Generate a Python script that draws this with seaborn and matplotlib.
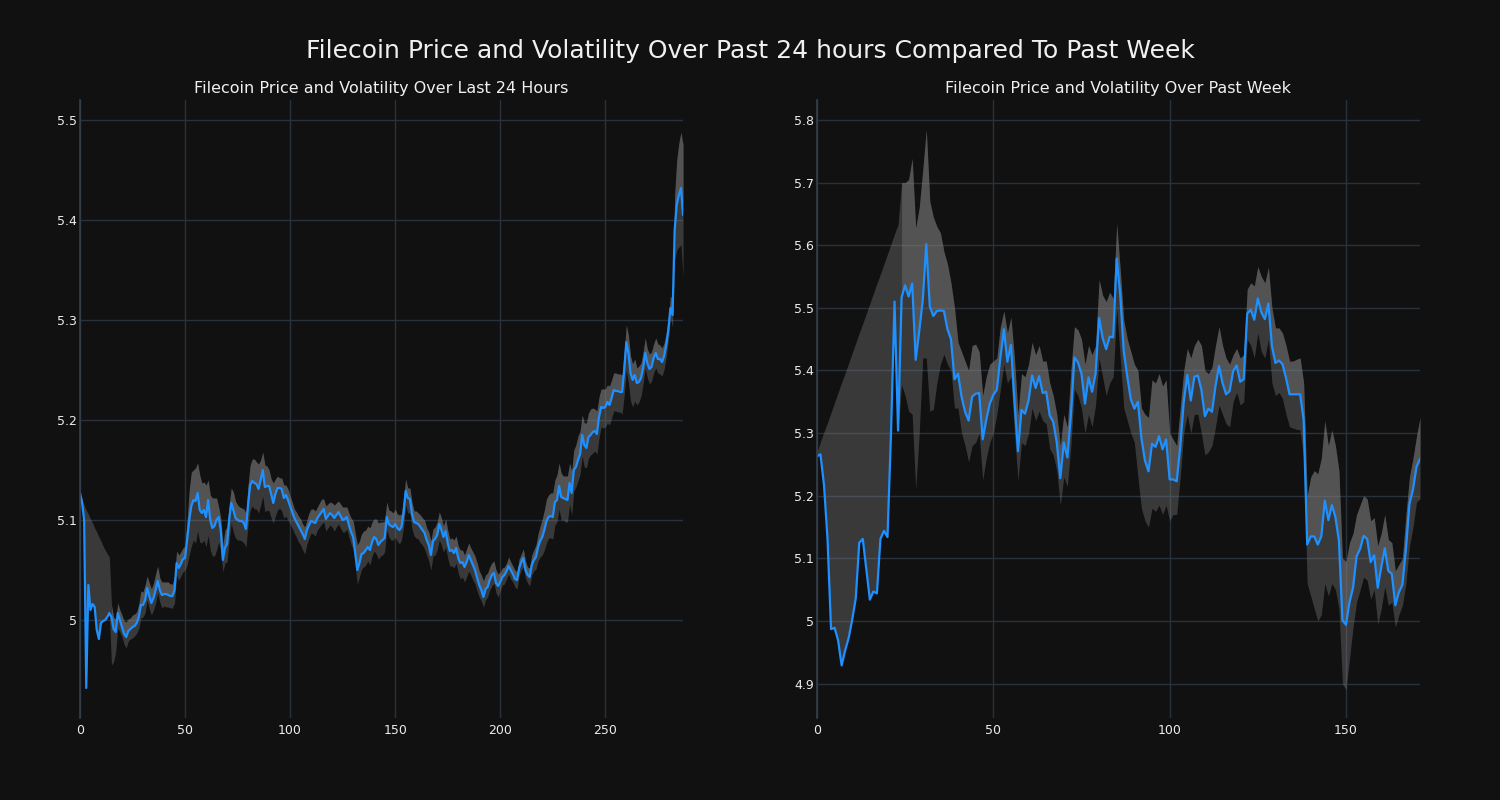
import matplotlib
matplotlib.use("Agg")
import matplotlib.pyplot as plt
from matplotlib.ticker import FuncFormatter
import numpy as np
import seaborn as sns

# last 24 hours (5 minute steps)
day_price = [
    5.127, 5.118, 5.100, 4.932, 5.035, 5.010, 5.016, 5.013, 4.990, 4.981,
    4.997, 4.999, 5.000, 5.003, 5.007, 5.003, 4.991, 4.988, 5.007, 5.000,
    4.993, 4.986, 4.983, 4.989, 4.991, 4.993, 4.994, 4.997, 5.003, 5.015,
    5.015, 5.020, 5.032, 5.024, 5.017, 5.022, 5.030, 5.039, 5.030, 5.025,
    5.026, 5.026, 5.025, 5.024, 5.024, 5.030, 5.057, 5.052, 5.056, 5.061,
    5.062, 5.080, 5.100, 5.114, 5.120, 5.119, 5.127, 5.110, 5.107, 5.110,
    5.103, 5.120, 5.100, 5.092, 5.094, 5.100, 5.103, 5.090, 5.060, 5.072,
    5.076, 5.100, 5.117, 5.110, 5.102, 5.100, 5.099, 5.099, 5.097, 5.091,
    5.115, 5.135, 5.139, 5.137, 5.136, 5.131, 5.140, 5.150, 5.133, 5.134,
    5.134, 5.126, 5.117, 5.126, 5.132, 5.132, 5.131, 5.122, 5.125, 5.120,
    5.114, 5.108, 5.102, 5.098, 5.094, 5.090, 5.086, 5.081, 5.090, 5.095,
    5.099, 5.098, 5.097, 5.102, 5.105, 5.108, 5.111, 5.101, 5.104, 5.107,
    5.105, 5.102, 5.105, 5.108, 5.104, 5.100, 5.101, 5.103, 5.095, 5.088,
    5.083, 5.067, 5.050, 5.057, 5.066, 5.067, 5.070, 5.073, 5.070, 5.078,
    5.083, 5.081, 5.075, 5.078, 5.080, 5.082, 5.103, 5.096, 5.094, 5.093,
    5.096, 5.092, 5.090, 5.093, 5.107, 5.129, 5.122, 5.121, 5.106, 5.098,
    5.097, 5.096, 5.093, 5.090, 5.087, 5.080, 5.075, 5.065, 5.079, 5.081,
    5.085, 5.096, 5.090, 5.083, 5.089, 5.077, 5.069, 5.070, 5.067, 5.072,
    5.062, 5.057, 5.058, 5.053, 5.058, 5.065, 5.060, 5.055, 5.050, 5.042,
    5.035, 5.030, 5.023, 5.031, 5.033, 5.040, 5.045, 5.047, 5.037, 5.034,
    5.038, 5.043, 5.045, 5.049, 5.054, 5.050, 5.046, 5.041, 5.040, 5.052,
    5.058, 5.062, 5.050, 5.045, 5.043, 5.055, 5.060, 5.063, 5.073, 5.079,
    5.083, 5.090, 5.099, 5.103, 5.104, 5.103, 5.118, 5.120, 5.134, 5.123,
    5.122, 5.121, 5.120, 5.137, 5.127, 5.150, 5.153, 5.160, 5.166, 5.185,
    5.175, 5.172, 5.183, 5.185, 5.188, 5.189, 5.186, 5.203, 5.213, 5.212,
    5.213, 5.218, 5.215, 5.222, 5.230, 5.229, 5.229, 5.228, 5.228, 5.250,
    5.278, 5.267, 5.247, 5.240, 5.245, 5.237, 5.238, 5.242, 5.252, 5.267,
    5.257, 5.251, 5.253, 5.262, 5.267, 5.261, 5.261, 5.258, 5.264, 5.275,
    5.290, 5.312, 5.305, 5.390, 5.415, 5.425, 5.432, 5.405,
]
day_up = [
    0.000, 0.002, 0.015, 0.178, 0.071, 0.091, 0.081, 0.079, 0.098, 0.102,
    0.082, 0.075, 0.070, 0.063, 0.056, 0.012, 0.012, 0.013, 0.010, 0.010,
    0.012, 0.013, 0.015, 0.012, 0.011, 0.012, 0.012, 0.011, 0.013, 0.014,
    0.013, 0.015, 0.012, 0.013, 0.014, 0.015, 0.016, 0.015, 0.012, 0.013,
    0.012, 0.012, 0.013, 0.012, 0.012, 0.014, 0.012, 0.013, 0.012, 0.011,
    0.012, 0.020, 0.030, 0.034, 0.030, 0.033, 0.030, 0.035, 0.030, 0.028,
    0.032, 0.020, 0.025, 0.030, 0.028, 0.022, 0.010, 0.012, 0.015, 0.018,
    0.017, 0.015, 0.015, 0.018, 0.017, 0.015, 0.014, 0.013, 0.014, 0.016,
    0.020, 0.020, 0.022, 0.024, 0.022, 0.025, 0.020, 0.018, 0.022, 0.020,
    0.016, 0.015, 0.020, 0.015, 0.012, 0.010, 0.011, 0.013, 0.010, 0.011,
    0.010, 0.010, 0.009, 0.010, 0.010, 0.011, 0.010, 0.012, 0.010, 0.012,
    0.012, 0.013, 0.012, 0.011, 0.012, 0.013, 0.010, 0.013, 0.012, 0.011,
    0.012, 0.013, 0.012, 0.011, 0.012, 0.013, 0.012, 0.010, 0.012, 0.014,
    0.016, 0.020, 0.025, 0.022, 0.020, 0.022, 0.020, 0.021, 0.022, 0.020,
    0.018, 0.020, 0.022, 0.020, 0.018, 0.017, 0.015, 0.014, 0.015, 0.014,
    0.015, 0.014, 0.015, 0.013, 0.015, 0.012, 0.010, 0.011, 0.012, 0.011,
    0.012, 0.011, 0.012, 0.012, 0.013, 0.012, 0.013, 0.014, 0.012, 0.012,
    0.013, 0.012, 0.012, 0.011, 0.012, 0.013, 0.012, 0.012, 0.013, 0.012,
    0.012, 0.013, 0.012, 0.012, 0.013, 0.012, 0.012, 0.013, 0.014, 0.015,
    0.014, 0.015, 0.016, 0.014, 0.014, 0.013, 0.012, 0.012, 0.013, 0.012,
    0.010, 0.009, 0.008, 0.008, 0.009, 0.008, 0.008, 0.009, 0.008, 0.009,
    0.008, 0.009, 0.009, 0.008, 0.009, 0.010, 0.010, 0.012, 0.013, 0.015,
    0.018, 0.020, 0.022, 0.022, 0.023, 0.024, 0.022, 0.025, 0.023, 0.024,
    0.022, 0.023, 0.024, 0.020, 0.022, 0.020, 0.022, 0.024, 0.023, 0.020,
    0.022, 0.025, 0.024, 0.026, 0.024, 0.022, 0.023, 0.020, 0.018, 0.019,
    0.018, 0.017, 0.019, 0.018, 0.017, 0.018, 0.017, 0.018, 0.017, 0.018,
    0.017, 0.018, 0.017, 0.016, 0.016, 0.015, 0.016, 0.015, 0.016, 0.015,
    0.014, 0.015, 0.015, 0.014, 0.015, 0.015, 0.014, 0.014, 0.013, 0.012,
    0.012, 0.012, 0.015, 0.035, 0.045, 0.052, 0.056, 0.070,
]
day_down = [
    0.000, 0.000, 0.000, 0.000, 0.000, 0.000, 0.000, 0.000, 0.000, 0.000,
    0.000, 0.000, 0.000, 0.000, 0.000, 0.048, 0.033, 0.020, 0.015, 0.012,
    0.010, 0.010, 0.011, 0.010, 0.010, 0.011, 0.010, 0.010, 0.012, 0.013,
    0.012, 0.013, 0.012, 0.013, 0.012, 0.012, 0.013, 0.012, 0.012, 0.013,
    0.012, 0.013, 0.012, 0.012, 0.012, 0.013, 0.012, 0.012, 0.012, 0.013,
    0.012, 0.025, 0.035, 0.040, 0.040, 0.042, 0.038, 0.032, 0.030, 0.030,
    0.030, 0.035, 0.030, 0.028, 0.030, 0.030, 0.025, 0.020, 0.012, 0.015,
    0.018, 0.020, 0.020, 0.022, 0.020, 0.020, 0.019, 0.020, 0.020, 0.018,
    0.020, 0.025, 0.025, 0.026, 0.025, 0.024, 0.025, 0.026, 0.025, 0.024,
    0.025, 0.024, 0.020, 0.022, 0.022, 0.020, 0.022, 0.020, 0.021, 0.020,
    0.018, 0.016, 0.015, 0.015, 0.016, 0.015, 0.016, 0.015, 0.014, 0.013,
    0.012, 0.012, 0.013, 0.012, 0.012, 0.012, 0.013, 0.012, 0.012, 0.012,
    0.012, 0.013, 0.012, 0.012, 0.012, 0.012, 0.013, 0.012, 0.012, 0.012,
    0.012, 0.013, 0.014, 0.014, 0.015, 0.014, 0.015, 0.014, 0.015, 0.014,
    0.014, 0.015, 0.014, 0.014, 0.015, 0.014, 0.013, 0.013, 0.014, 0.013,
    0.013, 0.013, 0.014, 0.013, 0.014, 0.014, 0.015, 0.014, 0.015, 0.014,
    0.015, 0.015, 0.016, 0.015, 0.016, 0.015, 0.016, 0.015, 0.015, 0.016,
    0.015, 0.016, 0.015, 0.015, 0.016, 0.015, 0.015, 0.016, 0.015, 0.015,
    0.015, 0.016, 0.015, 0.015, 0.015, 0.016, 0.015, 0.015, 0.014, 0.013,
    0.012, 0.011, 0.010, 0.011, 0.010, 0.010, 0.011, 0.010, 0.010, 0.011,
    0.009, 0.008, 0.009, 0.008, 0.008, 0.009, 0.008, 0.008, 0.009, 0.008,
    0.008, 0.009, 0.008, 0.008, 0.009, 0.010, 0.011, 0.012, 0.014, 0.016,
    0.018, 0.020, 0.022, 0.021, 0.022, 0.022, 0.023, 0.022, 0.023, 0.023,
    0.022, 0.023, 0.022, 0.021, 0.022, 0.021, 0.020, 0.021, 0.020, 0.021,
    0.022, 0.020, 0.021, 0.020, 0.021, 0.020, 0.020, 0.021, 0.020, 0.020,
    0.020, 0.021, 0.020, 0.020, 0.021, 0.020, 0.021, 0.020, 0.022, 0.025,
    0.028, 0.030, 0.028, 0.027, 0.026, 0.022, 0.020, 0.018, 0.016, 0.015,
    0.015, 0.015, 0.014, 0.015, 0.015, 0.014, 0.015, 0.014, 0.013, 0.012,
    0.010, 0.010, 0.012, 0.030, 0.045, 0.052, 0.057, 0.062,
]

# past week (hourly)
week_price = [
    5.263, 5.266, 5.217, 5.131, 4.987, 4.989, 4.969, 4.929, 4.953, 4.973,
    5.002, 5.036, 5.125, 5.131, 5.082, 5.034, 5.047, 5.044, 5.131, 5.144,
    5.134, 5.300, 5.510, 5.304, 5.517, 5.536, 5.518, 5.539, 5.417, 5.463,
    5.512, 5.602, 5.502, 5.487, 5.495, 5.496, 5.495, 5.466, 5.450, 5.386,
    5.395, 5.358, 5.334, 5.320, 5.358, 5.363, 5.364, 5.290, 5.321, 5.347,
    5.361, 5.369, 5.420, 5.466, 5.414, 5.441, 5.352, 5.271, 5.337, 5.331,
    5.352, 5.392, 5.372, 5.391, 5.364, 5.366, 5.328, 5.318, 5.285, 5.228,
    5.285, 5.261, 5.328, 5.421, 5.413, 5.395, 5.347, 5.389, 5.366, 5.395,
    5.484, 5.452, 5.434, 5.454, 5.453, 5.579, 5.520, 5.430, 5.390, 5.354,
    5.339, 5.350, 5.292, 5.256, 5.239, 5.283, 5.278, 5.295, 5.274, 5.290,
    5.226, 5.226, 5.223, 5.278, 5.350, 5.393, 5.352, 5.390, 5.392, 5.369,
    5.327, 5.339, 5.334, 5.375, 5.407, 5.380, 5.362, 5.367, 5.399, 5.408,
    5.382, 5.386, 5.491, 5.497, 5.481, 5.515, 5.493, 5.482, 5.507, 5.439,
    5.412, 5.416, 5.410, 5.388, 5.362, 5.362, 5.362, 5.362, 5.321, 5.122,
    5.135, 5.135, 5.122, 5.135, 5.192, 5.161, 5.185, 5.166, 5.128, 5.001,
    4.994, 5.030, 5.053, 5.103, 5.115, 5.136, 5.131, 5.094, 5.105, 5.053,
    5.086, 5.116, 5.080, 5.075, 5.025, 5.046, 5.058, 5.115, 5.187, 5.210,
    5.246, 5.259,
]
week_upper = [
    5.270, 5.286, 5.302, 5.317, 5.333, 5.349, 5.365, 5.381, 5.396, 5.412,
    5.428, 5.444, 5.460, 5.475, 5.491, 5.507, 5.523, 5.539, 5.554, 5.570,
    5.586, 5.602, 5.618, 5.633, 5.700, 5.700, 5.705, 5.739, 5.628, 5.660,
    5.720, 5.785, 5.670, 5.645, 5.630, 5.620, 5.590, 5.570, 5.540, 5.500,
    5.445, 5.430, 5.415, 5.400, 5.440, 5.442, 5.430, 5.360, 5.390, 5.410,
    5.415, 5.420, 5.470, 5.495, 5.460, 5.485, 5.420, 5.330, 5.395, 5.390,
    5.410, 5.445, 5.425, 5.440, 5.415, 5.415, 5.380, 5.360, 5.330, 5.280,
    5.330, 5.310, 5.400, 5.470, 5.465, 5.450, 5.410, 5.440, 5.425, 5.440,
    5.545, 5.520, 5.510, 5.525, 5.515, 5.635, 5.560, 5.480, 5.450, 5.430,
    5.410, 5.400, 5.340, 5.330, 5.325, 5.385, 5.380, 5.395, 5.375, 5.385,
    5.300, 5.290, 5.280, 5.340, 5.400, 5.435, 5.420, 5.440, 5.450, 5.440,
    5.400, 5.395, 5.405, 5.440, 5.470, 5.440, 5.420, 5.410, 5.425, 5.435,
    5.420, 5.425, 5.530, 5.540, 5.535, 5.566, 5.550, 5.540, 5.565, 5.500,
    5.468, 5.468, 5.460, 5.440, 5.415, 5.415, 5.418, 5.420, 5.380, 5.200,
    5.230, 5.240, 5.235, 5.260, 5.320, 5.280, 5.305, 5.280, 5.240, 5.100,
    5.095, 5.125, 5.140, 5.170, 5.185, 5.200, 5.195, 5.160, 5.165, 5.120,
    5.140, 5.170, 5.130, 5.125, 5.080, 5.090, 5.100, 5.170, 5.230, 5.260,
    5.295, 5.325,
]
week_lower = [
    5.263, 5.266, 5.217, 5.131, 4.987, 4.989, 4.969, 4.929, 4.953, 4.973,
    5.002, 5.036, 5.125, 5.131, 5.082, 5.034, 5.047, 5.044, 5.131, 5.144,
    5.134, 5.300, 5.510, 5.304, 5.377, 5.360, 5.335, 5.330, 5.211, 5.300,
    5.420, 5.420, 5.335, 5.338, 5.380, 5.410, 5.426, 5.410, 5.400, 5.340,
    5.340, 5.300, 5.280, 5.254, 5.280, 5.285, 5.300, 5.225, 5.260, 5.285,
    5.300, 5.330, 5.370, 5.410, 5.380, 5.390, 5.300, 5.225, 5.285, 5.280,
    5.300, 5.340, 5.320, 5.335, 5.320, 5.315, 5.275, 5.265, 5.240, 5.185,
    5.230, 5.215, 5.280, 5.370, 5.360, 5.340, 5.300, 5.330, 5.310, 5.345,
    5.420, 5.390, 5.360, 5.380, 5.390, 5.500, 5.420, 5.340, 5.320, 5.300,
    5.285, 5.230, 5.180, 5.160, 5.150, 5.180, 5.175, 5.185, 5.170, 5.185,
    5.160, 5.170, 5.170, 5.230, 5.300, 5.330, 5.300, 5.330, 5.330, 5.300,
    5.265, 5.270, 5.280, 5.310, 5.345, 5.330, 5.315, 5.310, 5.350, 5.365,
    5.345, 5.350, 5.450, 5.440, 5.420, 5.460, 5.430, 5.420, 5.450, 5.380,
    5.360, 5.365, 5.355, 5.330, 5.310, 5.308, 5.306, 5.305, 5.260, 5.060,
    5.040, 5.020, 5.000, 5.010, 5.060, 5.040, 5.060, 5.050, 5.020, 4.900,
    4.890, 4.940, 4.990, 5.030, 5.050, 5.070, 5.065, 5.035, 5.050, 4.995,
    5.020, 5.055, 5.025, 5.030, 4.990, 5.010, 5.025, 5.060, 5.120, 5.150,
    5.190, 5.195,
]

BG = "#111111"
GRID = "#29313b"
LINE = "#1e90ff"

sns.set_theme(style="darkgrid", rc={
    "figure.facecolor": BG,
    "axes.facecolor": BG,
    "axes.edgecolor": "#3a4452",
    "grid.color": GRID,
    "text.color": "#f0f0f0",
    "axes.labelcolor": "#f0f0f0",
    "xtick.color": "#ececec",
    "ytick.color": "#ececec",
})
plt.rcParams["font.family"] = ["DejaVu Sans"]


def draw_panel(ax, price, upper, lower, start, title, xmax, ylim, xticks, yticks):
    x = np.arange(len(price))
    price = np.array(price)
    ax.fill_between(x, lower, upper, color="grey", alpha=0.37, linewidth=0)
    ax.fill_between(x, price, upper, where=x >= start, color="grey", alpha=0.37,
                    linewidth=0, interpolate=True)
    sns.lineplot(x=x, y=price, ax=ax, color=LINE, linewidth=1.6)
    ax.set_xlim(0, xmax)
    ax.set_ylim(*ylim)
    ax.set_xticks(xticks)
    ax.set_yticks(yticks)
    fmt = FuncFormatter(lambda v, p: f"{v:g}")
    ax.xaxis.set_major_formatter(fmt)
    ax.yaxis.set_major_formatter(fmt)
    ax.tick_params(axis="both", length=0, labelsize=9, pad=4)
    ax.tick_params(axis="y", pad=2)
    ax.grid(True, color=GRID, linewidth=1)
    ax.set_axisbelow(True)
    for side in ["top", "right", "bottom"]:
        ax.spines[side].set_visible(False)
    ax.spines["left"].set_visible(True)
    ax.spines["left"].set_color("#36404c")
    ax.spines["left"].set_linewidth(1.2)
    ax.set_xlabel("")
    ax.set_ylabel("")
    ax.set_title(title, fontsize=11.5, color="#f0f0f0", pad=5)


fig, (ax1, ax2) = plt.subplots(1, 2, figsize=(15, 8), dpi=100)
fig.subplots_adjust(left=0.0533, right=0.9467, bottom=0.1025, top=0.875, wspace=0.222)

day_upper = np.array(day_price) + np.array(day_up)
day_lower = np.array(day_price) - np.array(day_down)

draw_panel(ax1, day_price, day_upper, day_lower, 15,
           "Filecoin Price and Volatility Over Last 24 Hours",
           287, (4.902, 5.52), [0, 50, 100, 150, 200, 250],
           [5.0, 5.1, 5.2, 5.3, 5.4, 5.5])
draw_panel(ax2, week_price, week_upper, week_lower, 24,
           "Filecoin Price and Volatility Over Past Week",
           171, (4.845, 5.832), [0, 50, 100, 150],
           [4.9, 5.0, 5.1, 5.2, 5.3, 5.4, 5.5, 5.6, 5.7, 5.8])

fig.suptitle("Filecoin Price and Volatility Over Past 24 hours Compared To Past Week",
             fontsize=18, color="#f0f0f0", y=0.951)

fig.savefig("out.png", dpi=100, facecolor=BG)
